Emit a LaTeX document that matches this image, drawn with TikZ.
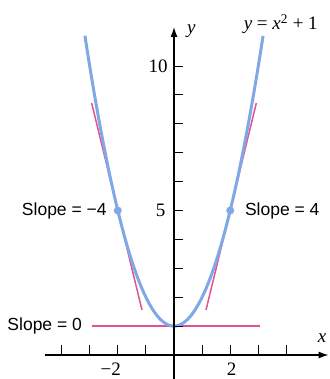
\documentclass[tikz,border=0pt]{standalone}
\usepackage{fontspec}
\setmainfont{Liberation Serif}
\newfontfamily\lblsans{Liberation Sans}
\usetikzlibrary{arrows.meta}
\definecolor{curveblue}{RGB}{128,168,228}
\definecolor{tanpink}{RGB}{224,82,150}
\tikzset{
  axisline/.style={line width=1.2pt, black, -{Latex[length=10pt,width=7pt]}},
  tickline/.style={line width=0.9pt, black},
  curve/.style={line width=3pt, curveblue},
  tangent/.style={line width=1.5pt, tanpink},
  dotmark/.style={circle, fill=curveblue, inner sep=0pt, minimum size=8pt},
  sanslbl/.style={font=\lblsans\fontsize{17.5}{20}\selectfont, inner sep=0pt},
  seriflbl/.style={font=\fontsize{19}{22}\selectfont, inner sep=0pt},
}
\begin{document}
\begin{tikzpicture}[x=28.1pt,y=28.9pt]
\useasboundingbox (-6.192,-0.830) rectangle (5.516,12.284);
% tangent lines
\coordinate (h1) at (-2.93,1);
\coordinate (h2) at (3.05,1);
\draw[tangent] (h1) -- (h2);
\coordinate (l1) at (-2.93,8.72);
\coordinate (l2) at (-1.14,1.56);
\draw[tangent] (l1) -- (l2);
\coordinate (r1) at (2.93,8.72);
\coordinate (r2) at (1.14,1.56);
\draw[tangent] (r1) -- (r2);
% curve
\draw[curve] plot[domain=-3.17:3.17, samples=100, smooth] (\x,{\x*\x+1});
% axes
\coordinate (xs) at (-4.59,0);
\coordinate (xe) at (5.5,0);
\coordinate (ys) at (0,-0.85);
\coordinate (ye) at (0,11.35);
\draw[axisline] (xs) -- (xe);
\draw[axisline] (ys) -- (ye);
\foreach \i in {-4,-3,-2,-1,1,2,3,4} \draw[tickline] (\i,0) -- (\i,0.33);
\foreach \j in {1,...,10} \draw[tickline] (0,\j) -- (0.33,\j);
% axis labels
\node[seriflbl] (ylab) at (0.62,11.2) {\textit{y}};
\node[seriflbl] (xlab) at (5.27,0.6) {\textit{x}};
\node[seriflbl] (eq) at (3.8,11.45) {\textit{y} = \textit{x}\textsuperscript{2} + 1};
\node[seriflbl, anchor=east] (t10) at (-0.22,10) {10};
\node[seriflbl, anchor=east] (t5) at (-0.3,5) {5};
\node[seriflbl] (tm2) at (-2.25,-0.5) {−2};
\node[seriflbl] (tp2) at (2.05,-0.5) {2};
% dots
\node[dotmark] (dl) at (-2,5) {};
\node[dotmark] (dr) at (2,5) {};
% slope labels
\node[sanslbl, anchor=east] (sl) at (-2.39,5) {Slope = −4};
\node[sanslbl, anchor=west] (sr) at (2.52,5) {Slope = 4};
\node[sanslbl, anchor=east] (s0) at (-3.27,1) {Slope = 0};
\end{tikzpicture}
\end{document}
